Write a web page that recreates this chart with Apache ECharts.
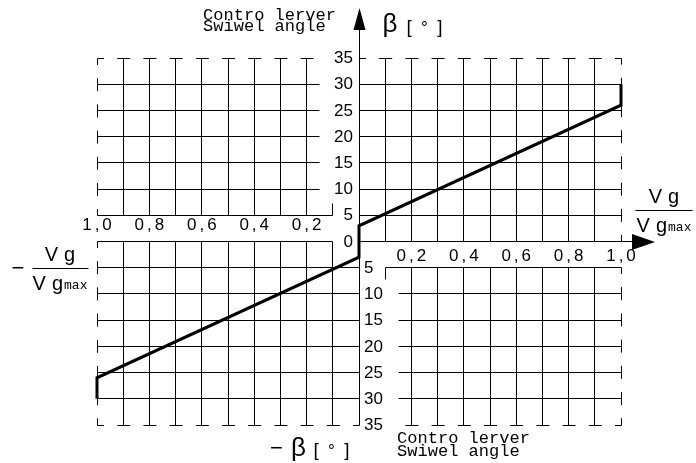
<!DOCTYPE html>
<html>
<head>
<meta charset="utf-8">
<script src="https://cdn.jsdelivr.net/npm/echarts@6/dist/echarts.min.js"></script>
<style>
  html, body { margin: 0; padding: 0; background: #fff; }
  #chart { width: 696px; height: 463px; }
</style>
</head>
<body>
<div id="chart"></div>
<script>
// Swivel angle of the control lever against the speed ratio Vg / Vgmax

// speed ratio ticks (both directions) and their printed labels
const ratioTicks = [0.2, 0.4, 0.6, 0.8, 1.0];
const ratioTickLabels = ['0,2', '0,4', '0,6', '0,8', '1,0'];

// swivel angle ticks in degrees
const angleTicks = [0, 5, 10, 15, 20, 25, 30, 35];
const angleTickLabels = ['0', '5', '10', '15', '20', '25', '30', '35'];

// characteristic: ratio (x) and swivel angle (y)
const curveRatio = [-1, -1, 0, 0, 1, 1];
const curveAngle = [-30, -26, -3, 3, 26, 30];

// axis titles
const angleTitle = ['Contro lerver', 'Swiwel angle'];
const angleSymbol = 'β';
const angleUnit = ['[', '°', ']'];

const STEP_X = 0.1;   // grid cell width in ratio units
const STEP_Y = 5;     // grid cell height in degrees
const DASH = 13;      // dash length of the open border lines, px

const MONO = '"Liberation Mono", "DejaVu Sans Mono", monospace';
const SANS = '"Liberation Sans", "DejaVu Sans", sans-serif';

function steps(from, to, step) {
  const out = [];
  const n = Math.round((to - from) / step);
  for (let i = 0; i <= n; i++) out.push(+(from + i * step).toFixed(4));
  return out;
}

// "0,2" style label with the comma spread out like drafting lettering
const tickRich = {
  n: { fontSize: 17, fontFamily: SANS },
  c: { fontSize: 17, fontFamily: SANS, padding: [0, 3, 0, 3] }
};
function ratioLabelRich(str) {
  return str.split(',').map(s => '{n|' + s + '}').join('{c|,}');
}
const unitRich = {
  b: { fontSize: 19, fontFamily: SANS },
  d: { fontSize: 17, fontFamily: SANS, padding: [0, 4, 0, 4] }
};
const unitText = '{b|' + angleUnit[0] + ' }{d|' + angleUnit[1] + '}{b| ' + angleUnit[2] + '}';

function renderFrame(params, api) {
  const P = (x, y) => api.coord([x, y]);
  const crisp = v => Math.round(v - 0.5) + 0.5;
  const cell = P(STEP_X, 0)[0] - P(0, 0)[0];
  const kids = [];

  function seg(x1, y1, x2, y2, dashed) {
    const a = P(x1, y1), b = P(x2, y2);
    const style = { stroke: '#000', lineWidth: 1 };
    if (dashed) {
      style.lineDash = [DASH, cell - DASH];
      style.lineDashOffset = DASH / 2;
    }
    kids.push({ type: 'line', silent: true,
      shape: { x1: crisp(a[0]), y1: crisp(a[1]), x2: crisp(b[0]), y2: crisp(b[1]) },
      style: style });
  }
  function segPx(x1, y1, x2, y2) {
    kids.push({ type: 'line', silent: true,
      shape: { x1: crisp(x1), y1: crisp(y1), x2: crisp(x2), y2: crisp(y2) },
      style: { stroke: '#000', lineWidth: 1 } });
  }
  function text(x, y, str, font, align, vAlign, extra, scaleX) {
    const style = Object.assign({
      text: str, fill: '#000', font: font,
      align: align, textAlign: align,
      verticalAlign: vAlign, textVerticalAlign: vAlign
    }, extra || {});
    kids.push({ type: 'text', silent: true, x: x, y: y,
      scaleX: scaleX || 1, style: style });
  }

  const gutter = STEP_X / 2;
  const top = angleTicks[angleTicks.length - 1];
  const inner = (a, b, s) => steps(a, b, s).slice(1, -1);

  // upper left block: ratio -1 .. -0.1, angle 5 .. 35
  inner(-1, -0.1, STEP_X).forEach(x => seg(x, STEP_Y, x, top));
  inner(STEP_Y, top, STEP_Y).forEach(y => seg(-1, y, -0.1 - gutter, y));
  seg(-1, top, -1, STEP_Y, true);
  seg(-1, top, -0.1 - gutter, top, true);
  seg(-1, STEP_Y, -0.1, STEP_Y);
  const ulc = P(-0.1, STEP_Y);
  segPx(ulc[0], ulc[1], ulc[0], ulc[1] - 12);

  // lower left block: ratio -1 .. 0, angle 0 .. -35
  steps(-1, 0, STEP_X).slice(1, -1).forEach(x => seg(x, 0, x, -top));
  inner(-top, 0, STEP_Y).forEach(y => seg(-1, y, 0, y));
  seg(-1, 0, -0.1, 0);
  seg(-1, 0, -1, -top, true);
  seg(-1, -top, 0, -top, true);

  // upper right block: ratio 0 .. 1, angle 0 .. 35
  inner(0, 1, STEP_X).forEach(x => seg(x, 0, x, top));
  inner(0, top, STEP_Y).forEach(y => seg(0, y, 1, y));
  seg(0, top, 1, top, true);
  seg(1, 0, 1, top, true);

  // lower right block: ratio 0.1 .. 1, angle -5 .. -35
  inner(0.1, 1, STEP_X).forEach(x => seg(x, -STEP_Y, x, -top));
  inner(-top, -STEP_Y, STEP_Y).forEach(y => seg(0.1 + gutter, y, 1, y));
  seg(0.1, -STEP_Y, 1, -STEP_Y);
  const lrc = P(0.1, -STEP_Y);
  segPx(lrc[0], lrc[1], lrc[0], lrc[1] + 12);
  seg(1, -STEP_Y, 1, -top, true);
  seg(1, -top, 0.1 + gutter, -top, true);

  // axes with arrow heads
  const o = P(0, 0), yTop = P(0, top), yBot = P(0, -top), xEnd = P(1, 0);
  const vTip = yTop[1] - 50, vBase = vTip + 21;
  segPx(o[0], yBot[1], o[0], vBase);
  kids.push({ type: 'polygon', silent: true,
    shape: { points: [[o[0] + 0.5, vTip], [o[0] - 5.5, vBase + 1], [o[0] + 6.5, vBase + 1]] },
    style: { fill: '#000' } });
  const hTip = xEnd[0] + 34, hBase = hTip - 22;
  segPx(o[0], o[1], hBase, o[1]);
  kids.push({ type: 'polygon', silent: true,
    shape: { points: [[hTip, o[1] + 0.5], [hBase - 1, o[1] - 7.5], [hBase - 1, o[1] + 8.5]] },
    style: { fill: '#000' } });

  // angle tick labels: positive side left of the axis, negative side right of it
  const tickFont = '17px ' + SANS;
  angleTicks.forEach((v, i) => {
    const p = P(0, v);
    text(p[0] - 6, p[1] + 0.5, angleTickLabels[i], tickFont, 'right', 'middle');
    if (v > 0) {
      const q = P(0, -v);
      text(q[0] + 5, q[1] + 0.5, angleTickLabels[i], tickFont, 'left', 'middle');
    }
  });

  // ratio tick labels: right side under the axis, left side inside the label band
  ratioTicks.forEach((v, i) => {
    const p = P(v, 0);
    text(p[0], p[1] + 15, ratioLabelRich(ratioTickLabels[i]), tickFont, 'center', 'middle', { rich: tickRich });
    const q = P(-v, STEP_Y / 2);
    text(q[0], q[1] - 3, ratioLabelRich(ratioTickLabels[i]), tickFont, 'center', 'middle', { rich: tickRich });
  });

  // angle axis titles
  const titleFont = '16px ' + MONO;
  text(yTop[0] - 156, vTip + 2, angleTitle.join('\n'), titleFont, 'left', 'top', { lineHeight: 11 }, 1.065);
  text(o[0] + 38, yBot[1] + 7, angleTitle.join('\n'), titleFont, 'left', 'top', { lineHeight: 13.5 }, 1.065);

  text(o[0] + 31, vTip + 17, angleSymbol, '26px ' + SANS, 'center', 'middle');
  text(o[0] + 65.5, vTip + 20, unitText, '19px ' + SANS, 'center', 'middle', { rich: unitRich });

  text(o[0] - 82.5, yBot[1] + 24, '\u2212', '22px ' + SANS, 'center', 'middle');
  text(o[0] - 60.5, yBot[1] + 24, angleSymbol, '26px ' + SANS, 'center', 'middle');
  text(o[0] - 27.5, yBot[1] + 26, unitText, '19px ' + SANS, 'center', 'middle', { rich: unitRich });

  // ratio titles as fractions
  const fracRich = {
    v: { fontSize: 20, fontFamily: SANS, verticalAlign: 'bottom' },
    g: { fontSize: 20, fontFamily: SANS, padding: [0, 0, 0, 6], verticalAlign: 'bottom' },
    s: { fontSize: 13, fontFamily: MONO, padding: [0, 0, 2, 1], verticalAlign: 'bottom' }
  };
  function fraction(cx, barY, x1, x2) {
    text(cx, barY - 3, '{v|V}{g|g}', '20px ' + SANS, 'center', 'bottom', { rich: fracRich });
    segPx(x1, barY, x2, barY);
    text(cx, barY + 6, '{v|V}{g|g}{s|max}', '20px ' + SANS, 'center', 'top', { rich: fracRich });
  }
  fraction(xEnd[0] + 43, o[1] - 31, xEnd[0] + 14, xEnd[0] + 71);
  const xStart = P(-1, 0);
  fraction(xStart[0] - 37, o[1] + 27, xStart[0] - 65, xStart[0] - 9);
  text(xStart[0] - 79, o[1] + 27, '\u2212', '22px ' + SANS, 'center', 'middle');

  return { type: 'group', children: kids };
}

const chart = echarts.init(document.getElementById('chart'), null, { renderer: 'canvas' });
chart.setOption({
  animation: false,
  backgroundColor: '#fff',
  grid: { left: 97, right: 75, top: 58, bottom: 38 },
  xAxis: { type: 'value', min: -1, max: 1, show: false },
  yAxis: { type: 'value', min: -35, max: 35, show: false },
  series: [
    {
      type: 'custom',
      coordinateSystem: 'cartesian2d',
      renderItem: renderFrame,
      data: [[0, 0]],
      clip: false,
      silent: true,
      z: 1
    },
    {
      type: 'line',
      data: curveRatio.map((x, i) => [x, curveAngle[i]]),
      symbol: 'none',
      lineStyle: { color: '#000', width: 3, join: 'miter', cap: 'butt' },
      silent: true,
      z: 5
    }
  ]
});
</script>
</body>
</html>
